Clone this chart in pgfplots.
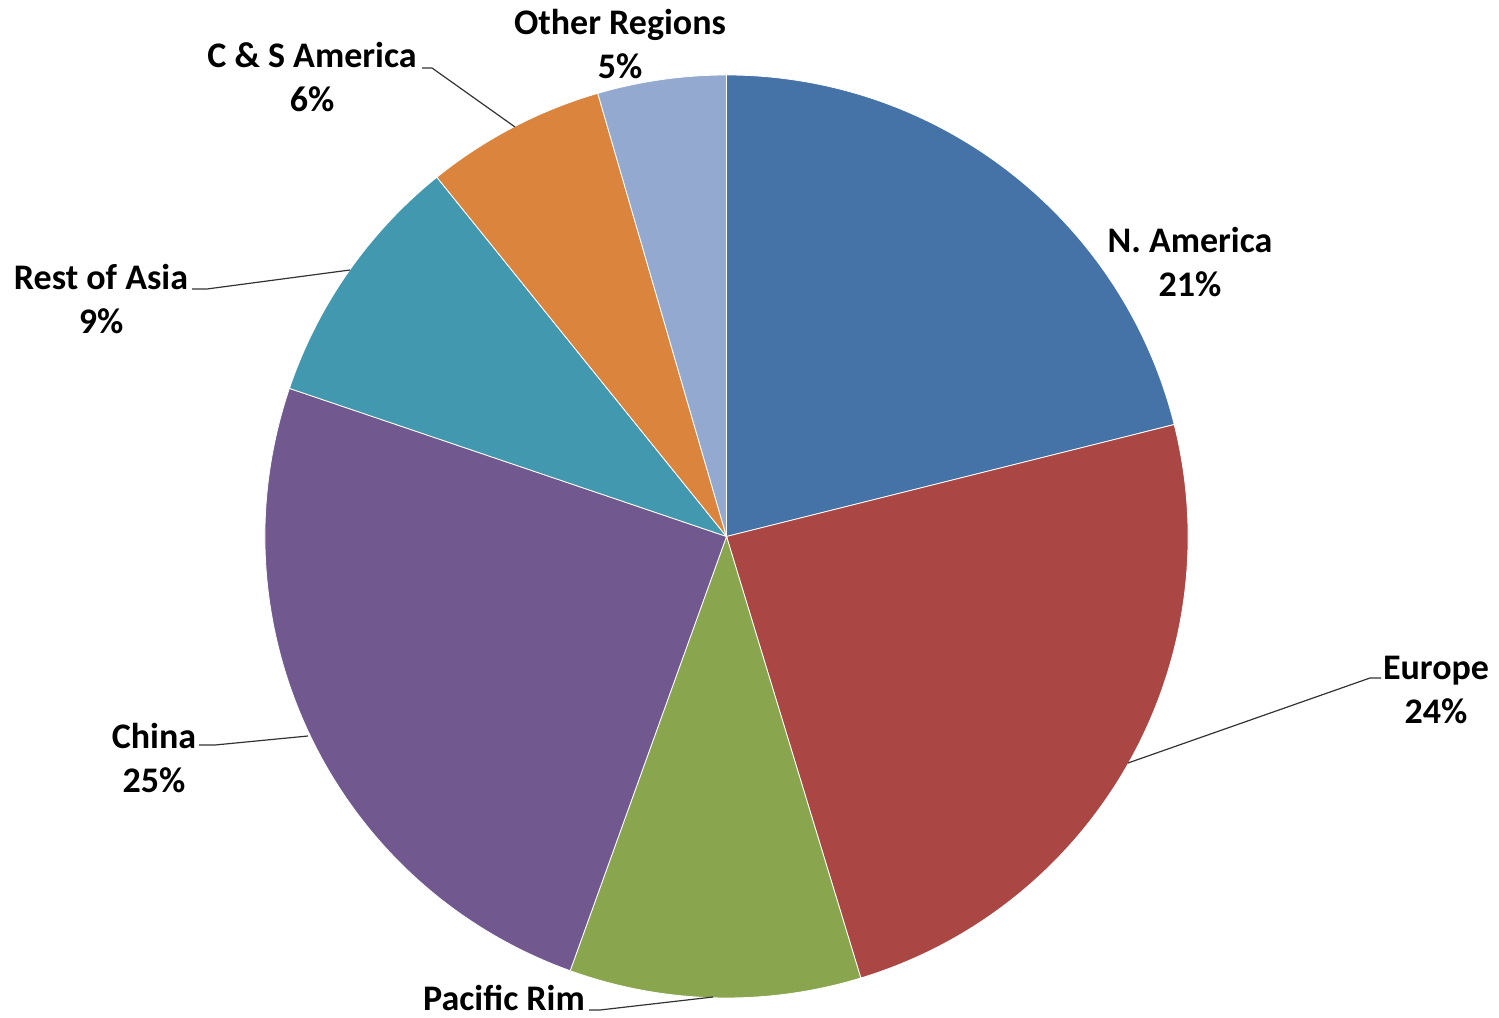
\documentclass[border=0pt]{standalone}
\usepackage{pgfplots}
\pgfplotsset{compat=1.18}
\usepackage{pgfplotstable}
\usepackage{fontspec}
\setmainfont{Carlito}

\definecolor{cNA}{HTML}{4572A7}
\definecolor{cEU}{HTML}{AA4643}
\definecolor{cPR}{HTML}{89A54E}
\definecolor{cCN}{HTML}{71588F}
\definecolor{cRA}{HTML}{4198AF}
\definecolor{cCS}{HTML}{DB843D}
\definecolor{cOR}{HTML}{93A9CF}

% share (%) of each region, clockwise from 12 o'clock
\pgfplotstableread{
value color
21.1 cNA
24.2 cEU
10.2 cPR
24.7 cCN
9.0 cRA
6.3 cCS
4.5 cOR
}\piedata

\begin{document}
\begin{tikzpicture}
\begin{axis}[
  width=749.5bp, height=509bp, scale only axis,
  xmin=0, xmax=1499, ymin=0, ymax=1018,
  hide axis, clip=false,
]
\pgfplotsextra{%
  \pgfplotstablegetrowsof{\piedata}%
  \pgfmathtruncatemacro\nrows{\pgfplotsretval-1}%
  \gdef\cum{0}%
  \foreach \i in {0,...,\nrows}{%
    \pgfplotstablegetelem{\i}{value}\of\piedata \let\pv\pgfplotsretval
    \pgfplotstablegetelem{\i}{color}\of\piedata \let\pc\pgfplotsretval
    \pgfmathsetmacro\pa{90-3.6*\cum}%
    \pgfmathsetmacro\pb{90-3.6*(\cum+\pv)}%
    \fill[fill=\pc, draw=white, line width=0.4pt] (axis cs:726.5,481.5) -- ++(\pa:230.75bp)
      arc[start angle=\pa, end angle=\pb, radius=230.75bp] -- cycle;
    \pgfmathsetmacro\pn{\cum+\pv}\xdef\cum{\pn}%
  }%
}
% leader lines
\draw[black!80, line width=0.6pt] (axis cs:422,950) -- (axis cs:432,950) -- (axis cs:515,891);
\draw[black!80, line width=0.6pt] (axis cs:192,729) -- (axis cs:207,729) -- (axis cs:350,748);
\draw[black!80, line width=0.6pt] (axis cs:199,273) -- (axis cs:215,273) -- (axis cs:308,282);
\draw[black!80, line width=0.6pt] (axis cs:1128,255) -- (axis cs:1370,340) -- (axis cs:1381,340);
\draw[black!80, line width=0.6pt] (axis cs:589,8) -- (axis cs:600,8) -- (axis cs:713,21);
% labels
\tikzset{lab/.style={align=center, font=\fontsize{18bp}{22bp}\selectfont\bfseries, inner sep=0pt}}
\node[lab] at (axis cs:620,974) {Other Regions\\5\%};
\node[lab] at (axis cs:312,941) {C \& S America\\6\%};
\node[lab] at (axis cs:1190,756) {N. America\\21\%};
\node[lab] at (axis cs:101,719) {Rest of Asia\\9\%};
\node[lab] at (axis cs:1436,328) {Europe\\24\%};
\node[lab] at (axis cs:154,260) {China\\25\%};
\node[lab] at (axis cs:504,20) {Pacific Rim};
\end{axis}
\pgfresetboundingbox
\useasboundingbox (current axis.south west) rectangle (current axis.north east);
\end{tikzpicture}
\end{document}
